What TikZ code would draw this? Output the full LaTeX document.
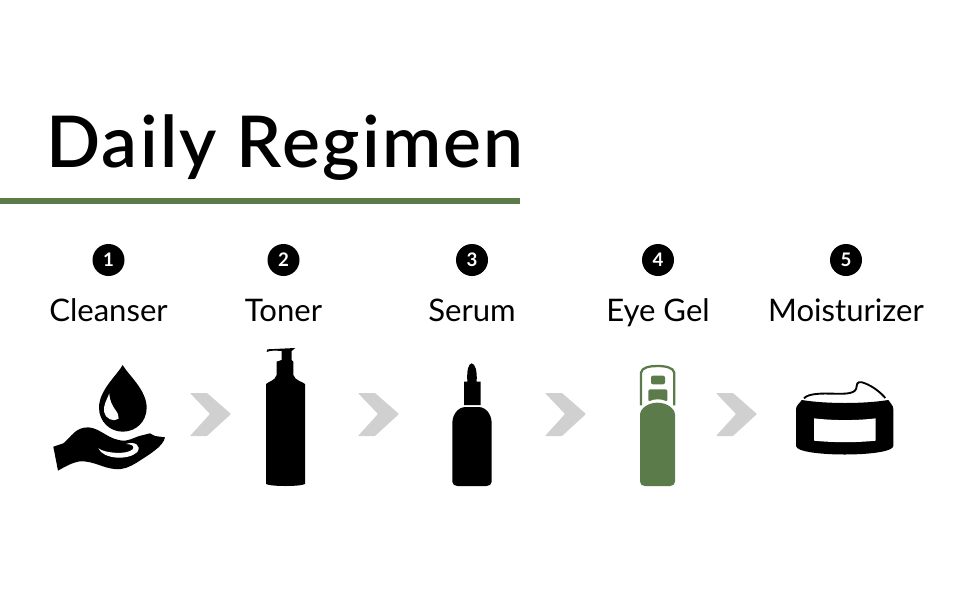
\documentclass[tikz,border=0pt]{standalone}
\usepackage{xcolor}
\usepackage{fontspec}
\setmainfont{Lato}
\newfontfamily\titlefont[LetterSpace=3.2]{Lato Semibold}
\usetikzlibrary{positioning}
\definecolor{regimen}{HTML}{5B7B4B}
\definecolor{nextgray}{HTML}{D0D0D0}
\newcommand{\nextmark}[1]{\fill[nextgray, rounded corners=0.6pt, shift={(#1,393)}]
  (0,0) -- (17,0) -- (41,21) -- (17,43) -- (0,43) -- (20,21) -- cycle;}

\begin{document}
\begin{tikzpicture}[
  x=0.75pt, y=-0.75pt,
  node distance=17.5pt and 0pt,
  stepnum/.style={circle, fill=black, text=white, minimum size=24pt, inner sep=0pt,
    font=\fontsize{14}{14}\selectfont\bfseries},
  steplabel/.style={inner sep=0pt, text height=16pt, text depth=5pt,
    font=\fontsize{23.3}{24}\selectfont},
  zoomed/.style={x=0.25pt, y=-0.25pt}
]
\useasboundingbox (0,0) rectangle (970,600);

\node[anchor=base west, inner sep=0pt, font=\fontsize{53.5}{60}\titlefont] (title) at (46,167) {Daily Regimen};
\fill[regimen] (0,198) rectangle (520,204);

\node[stepnum] (num1) at (108.5,260) {1};
\node[stepnum] (num2) at (283.5,260) {2};
\node[stepnum] (num3) at (472,260) {3};
\node[stepnum] (num4) at (658,260) {4};
\node[stepnum] (num5) at (846,260) {5};

\node[steplabel, below=of num1] (cleanser) {Cleanser};
\node[steplabel, below=of num2] (toner) {Toner};
\node[steplabel, below=of num3] (serum) {Serum};
\node[steplabel, below=of num4] (eyegel) {Eye Gel};
\node[steplabel, below=of num5] (moisturizer) {Moisturizer};

% hand and drop
\begin{scope}[shift={(30,340)}, zoomed]
  \fill (278,75) .. controls (262,105) and (207,150) .. (207,203)
    .. controls (207,245) and (240,275) .. (278,275)
    .. controls (318,275) and (350,245) .. (350,203)
    .. controls (350,150) and (295,105) .. (278,75) -- cycle;
  \fill[white] (238,160) .. controls (230,180) and (220,195) .. (222,215)
    .. controls (225,235) and (250,248) .. (266,236)
    .. controls (270,215) and (240,205) .. (238,160) -- cycle;
  \fill (70,320) -- (100,310) .. controls (125,290) and (135,262) .. (175,262)
    .. controls (215,265) and (235,302) .. (285,302)
    .. controls (310,298) and (320,288) .. (340,285)
    -- (360,280) -- (375,288) -- (405,292)
    .. controls (400,320) and (355,345) .. (320,368)
    .. controls (300,380) and (280,390) .. (255,387)
    .. controls (220,385) and (190,362) .. (150,364)
    .. controls (125,368) and (105,380) .. (84,392) -- cycle;
  \fill[white] (205,325) .. controls (225,340) and (290,345) .. (308,328)
    .. controls (315,318) and (305,312) .. (288,312)
    .. controls (315,302) and (335,318) .. (322,336)
    .. controls (295,362) and (220,358) .. (205,325) -- cycle;
\end{scope}

% pump bottle
\begin{scope}[shift={(30,340)}, zoomed]
  \fill (708,132) .. controls (715,125) and (735,122) .. (740,105) -- (740,65) -- (755,60)
    -- (755,33) .. controls (740,32) and (722,30) .. (710,36) -- (712,28) -- (796,24)
    -- (785,33) -- (785,60) -- (790,65) -- (790,105)
    .. controls (795,122) and (818,125) .. (825,132)
    -- (825,432) .. controls (810,440) and (723,440) .. (708,432) -- cycle;
\end{scope}

% dropper bottle
\begin{scope}[shift={(420,340)}, zoomed]
  \fill (155,70) .. controls (145,72) and (140,90) .. (142,125) -- (132,125) -- (132,195) -- (182,195)
    -- (182,125) -- (170,125) .. controls (172,90) and (165,72) .. (155,70) -- cycle;
  \fill (97,250) .. controls (97,225) and (112,203) .. (135,201) -- (178,201)
    .. controls (200,203) and (215,225) .. (215,250) -- (215,425)
    .. controls (215,433) and (208,438) .. (200,438) -- (112,438)
    .. controls (104,438) and (97,433) .. (97,425) -- cycle;
\end{scope}

% eye gel bottle
\begin{scope}[shift={(420,340)}, zoomed]
  \fill[regimen] (660,225) .. controls (660,205) and (685,188) .. (712,188)
    .. controls (740,188) and (765,205) .. (765,225) -- (765,425)
    .. controls (765,433) and (758,438) .. (750,438) -- (675,438)
    .. controls (667,438) and (660,433) .. (660,425) -- cycle;
  \draw[regimen, line width=1.7pt] (663,196) -- (663,98) .. controls (665,82) and (690,78) .. (712,78)
    .. controls (735,78) and (760,82) .. (763,98) -- (763,196);
  \fill[regimen, rounded corners=1.5pt] (693,107) rectangle (735,133);
  \fill[regimen, rounded corners=1pt] (685,185) -- (685,148) -- (742,148) -- (742,185)
    .. controls (725,176) and (702,176) .. (685,185) -- cycle;
\end{scope}

% cream jar
\begin{scope}[shift={(700,370)}, zoomed]
  \fill (305,90) .. controls (380,102) and (490,102) .. (565,90)
    .. controls (570,100) and (580,105) .. (580,118) -- (580,228)
    .. controls (578,262) and (290,262) .. (288,228) -- (288,118)
    .. controls (288,105) and (300,100) .. (305,90) -- cycle;
  \fill[white] (342,145) .. controls (400,152) and (470,152) .. (527,145) -- (527,212)
    .. controls (470,218) and (400,218) .. (342,212) -- cycle;
  \draw[line width=1.4pt] (312,85) .. controls (325,70) and (365,70) .. (400,71)
    .. controls (440,72) and (470,72) .. (470,48) .. controls (470,36) and (480,33) .. (495,40)
    .. controls (520,50) and (540,66) .. (556,84);
\end{scope}

\nextmark{190}
\nextmark{358}
\nextmark{545}
\nextmark{716}

\end{tikzpicture}
\end{document}
